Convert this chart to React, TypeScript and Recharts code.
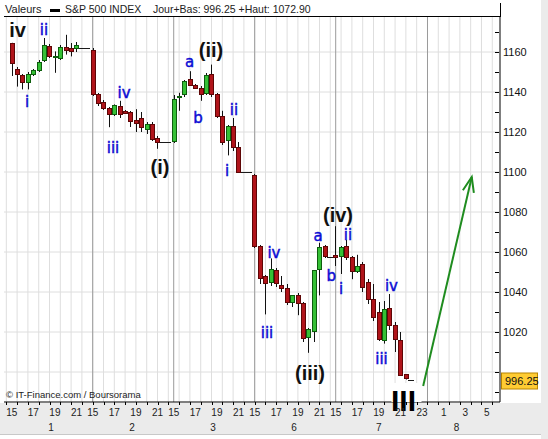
import React from 'react';
import {
  ComposedChart,
  Bar,
  XAxis,
  YAxis,
  CartesianGrid,
  ReferenceLine,
  ReferenceDot,
} from 'recharts';

// Half-hour candles, [open, high, low, close]. 15 slots per session, last ones are flat close ticks.
const DAY_1 = [
  [1164.4, 1164.6, 1148, 1154.5],
  [1151.6, 1152.5, 1142.7, 1148.8],
  [1148.3, 1149, 1141.3, 1145],
  [1145, 1150, 1141.3, 1148.8],
  [1149.1, 1151.5, 1148, 1150.9],
  [1151.2, 1156, 1150, 1155],
  [1156.2, 1167, 1155, 1163.6],
  [1163.1, 1164, 1157, 1157.8],
  [1157.5, 1160.3, 1149.6, 1158],
  [1157.2, 1163.5, 1156, 1162.6],
  [1162.5, 1168.6, 1158.7, 1161],
  [1162, 1164.5, 1157.8, 1160.3],
  [1162, 1165, 1160, 1163.7],
  [1162, 1162, 1162, 1162],
  [1162, 1162, 1162, 1162],
];
const DAY_2 = [
  [1161, 1162, 1138, 1139],
  [1138.8, 1139.5, 1133, 1134.7],
  [1135, 1136, 1131, 1131.8],
  [1131.8, 1132.5, 1122.4, 1129],
  [1129, 1133.8, 1128, 1133.4],
  [1132.8, 1135.6, 1127, 1129],
  [1130.5, 1131, 1129, 1129.5],
  [1130, 1130.5, 1122.5, 1125.6],
  [1126, 1131.4, 1120, 1124.5],
  [1126.8, 1130, 1120, 1122.5],
  [1121.5, 1125, 1119, 1124],
  [1124, 1125, 1115.5, 1116.6],
  [1117, 1118, 1111.6, 1115],
  [1115, 1115, 1115, 1115],
  [1115, 1115, 1115, 1115],
];
const DAY_3 = [
  [1115.3, 1138.5, 1114.5, 1136.7],
  [1137.5, 1139.6, 1130.6, 1137.9],
  [1139, 1146, 1137.5, 1145.5],
  [1146.3, 1150.4, 1143, 1143.4],
  [1143.4, 1144, 1141.5, 1142],
  [1142, 1143, 1135.6, 1138.9],
  [1139.5, 1149.5, 1138.5, 1148.6],
  [1148.8, 1153.7, 1137.5, 1138.8],
  [1138.8, 1139.5, 1127, 1128.2],
  [1128.2, 1130.6, 1113.5, 1115],
  [1115.8, 1123.5, 1108.3, 1122.9],
  [1122.9, 1127, 1110.5, 1112.5],
  [1112.5, 1115, 1099.5, 1100.1],
  [1100, 1100, 1100, 1100],
  [1100, 1100, 1100, 1100],
];
const DAY_6 = [
  [1098.4, 1099, 1062, 1062.9],
  [1063, 1063.5, 1044, 1047],
  [1048, 1048.5, 1028.8, 1044.6],
  [1044.8, 1056.8, 1043, 1051.5],
  [1051, 1052, 1042.5, 1044.5],
  [1043.7, 1048, 1040, 1041.8],
  [1042, 1044, 1033.5, 1034.9],
  [1035, 1038.5, 1032.5, 1038.3],
  [1038.7, 1039.5, 1028.4, 1034.4],
  [1034.4, 1035, 1015, 1017.2],
  [1017.7, 1022, 1009.6, 1021.7],
  [1020.5, 1051, 1015, 1050.8],
  [1051.7, 1064.6, 1038.3, 1062.4],
  [1063, 1063.5, 1057, 1058],
  [1057.5, 1057.5, 1057.5, 1057.5],
];
const DAY_7 = [
  [1058.3, 1072.9, 1053, 1057.4],
  [1058.2, 1063, 1049, 1062.5],
  [1063, 1066, 1056, 1057.4],
  [1057.4, 1058, 1046.4, 1050.4],
  [1050.3, 1058.6, 1049.5, 1052.8],
  [1054, 1055, 1040, 1042.7],
  [1045, 1046.5, 1034, 1036.5],
  [1036.5, 1044, 1025.5, 1027.5],
  [1030, 1035, 1015.5, 1016.7],
  [1016, 1035.5, 1014.2, 1031.6],
  [1032, 1039, 1021, 1023.4],
  [1023.4, 1025, 1010, 1016.5],
  [1016.2, 1020, 998, 998.6],
  [998.8, 999, 996.25, 997],
  [996.25, 996.25, 996.25, 996.25],
];
const SESSIONS = [DAY_1, DAY_2, DAY_3, DAY_6, DAY_7];
const SLOTS_PER_DAY = 15;

const LAST_CLOSE = 996.25;
const X_DOMAIN = [-1.43, 90.43];
const Y_DOMAIN = [985, 1177.5];

const PRICE_TICKS = [990, 1000, 1010, 1020, 1030, 1040, 1050, 1060, 1070, 1080, 1090, 1100, 1110, 1120, 1130, 1140, 1150, 1160, 1170];
const PRICE_GRID = [1000, 1020, 1040, 1060, 1080, 1100, 1120, 1140, 1160];

const HOUR_SLOTS = [-1, 1, 3, 5, 7, 9, 11, 13, 15, 17, 19, 21, 23, 25, 27, 29, 31, 33, 35, 37, 39, 41, 43, 45, 47, 49, 51, 53, 55, 57, 59, 61, 63, 65, 67, 69, 71, 73, 75, 77, 79, 81, 83, 85, 87, 89];
const SESSION_STARTS = [15, 30, 45, 60, 77];
const HOUR_LABELS: [number, string][] = [
  [0, '15'], [4, '17'], [8, '19'], [12, '21'],
  [15, '15'], [19, '17'], [23, '19'], [27, '21'],
  [30, '15'], [34, '17'], [38, '19'], [42, '21'],
  [45, '15'], [49, '17'], [53, '19'], [57, '21'],
  [60, '15'], [64, '17'], [68, '19'], [72, '21'], [76, '23'],
  [80, '1'], [84, '3'], [88, '5'],
];
const DAY_LABELS: [number, string][] = [
  [7.3, '1'], [22.3, '2'], [37.3, '3'], [52.3, '6'], [68, '7'], [82.4, '8'],
];

const WAVE_LABELS = [
  { x: 1.07, y: 1171, text: 'iv', major: true },
  { x: 5.98, y: 1171, text: 'ii' },
  { x: 2.83, y: 1135, text: 'i' },
  { x: 20.8, y: 1139.5, text: 'iv' },
  { x: 18.76, y: 1112, text: 'iii' },
  { x: 27.46, y: 1102.5, text: '(i)', major: true },
  { x: 32.93, y: 1155, text: 'a' },
  { x: 36.9, y: 1161, text: '(ii)', major: true },
  { x: 34.5, y: 1127, text: 'b' },
  { x: 41.17, y: 1131, text: 'ii' },
  { x: 39.87, y: 1100.5, text: 'i' },
  { x: 48.57, y: 1059.5, text: 'iv' },
  { x: 47.28, y: 1019.5, text: 'iii' },
  { x: 56.72, y: 1068, text: 'a' },
  { x: 59.2, y: 1048, text: 'b' },
  { x: 55.24, y: 999.5, text: '(iii)', major: true },
  { x: 60.43, y: 1078.5, text: '(iv)', major: true },
  { x: 62.28, y: 1068.5, text: 'ii' },
  { x: 60.98, y: 1041.5, text: 'i' },
  { x: 70.33, y: 1043, text: 'iv' },
  { x: 68.48, y: 1006.5, text: 'iii' },
];
const DEGREE_LABEL = { x: 72.56, y: 986, text: 'III' };
const PROJECTION = [
  { x: 76.2, y: 993 },
  { x: 85.2, y: 1097.5 },
];

const RED = '#b0141a';
const RED_EDGE = '#5e0606';
const GREEN = '#35c035';
const GREEN_EDGE = '#0d5e0d';
const BLUE = '#0c0cd4';
const FONT = '"Liberation Sans", Arial, sans-serif';

const candles = SESSIONS.flatMap((day, d) =>
  day.map(([o, h, l, c], i) => ({ x: d * SLOTS_PER_DAY + i, o, h, l, c })),
);

const hourLabelMap = new Map(HOUR_LABELS);
const dayLabelMap = new Map(DAY_LABELS);
const hourSet = new Set(HOUR_SLOTS);
const xTicks = Array.from(
  new Set([...HOUR_SLOTS, ...HOUR_LABELS.map((t) => t[0]), ...DAY_LABELS.map((t) => t[0])]),
).sort((a, b) => a - b);

function Candle(props: any) {
  const { x, y, width, height, payload } = props;
  if (!payload || x == null || y == null) return null;
  const { o, h, l, c } = payload;
  const cx = Math.round(x + width / 2);
  const span = h - l;
  if (span === 0) {
    const yy = Math.round(y) + 0.5;
    return <line x1={cx - 3} x2={cx + 3} y1={yy} y2={yy} stroke="#1a1a1a" />;
  }
  const toY = (v: number) => y + ((h - v) / span) * height;
  const up = c >= o;
  const top = Math.round(toY(Math.max(o, c)));
  const bot = Math.round(toY(Math.min(o, c)));
  return (
    <g>
      <line x1={cx + 0.5} x2={cx + 0.5} y1={y} y2={y + height} stroke="#111" />
      <rect
        x={cx - 1.5}
        y={top + 0.5}
        width={4}
        height={Math.max(bot - top, 1)}
        fill={up ? GREEN : RED}
        stroke={up ? GREEN_EDGE : RED_EDGE}
      />
    </g>
  );
}

function TimeTick(props: any) {
  const { x, y, payload } = props;
  const v = payload.value;
  const hour = hourLabelMap.get(v);
  const day = dayLabelMap.get(v);
  const px = Math.round(x) + 0.5;
  return (
    <g>
      {hourSet.has(v) && <line x1={px} x2={px} y1={y} y2={y + 3} stroke="#000" />}
      {hour && (
        <text x={x} y={y + 14} textAnchor="middle" fontSize={10} fill="#222" fontFamily={FONT}>
          {hour}
        </text>
      )}
      {day && (
        <text x={x} y={y + 29} textAnchor="middle" fontSize={10} fill="#222" fontFamily={FONT}>
          {day}
        </text>
      )}
    </g>
  );
}

function PriceTick(props: any) {
  const { x, y, payload } = props;
  const v = payload.value;
  const py = Math.round(y) + 0.5;
  return (
    <g>
      <line x1={x - 8} x2={x - 4} y1={py} y2={py} stroke="#000" />
      {v % 20 === 0 && v !== 1000 && (
        <text x={x} y={y + 4} fontSize={11} fill="#111" fontFamily={FONT}>
          {v}
        </text>
      )}
    </g>
  );
}

function WaveText({ cx, cy, text, major }: any) {
  return (
    <text
      x={cx}
      y={cy}
      textAnchor="middle"
      dominantBaseline="central"
      fontSize={major ? 20 : 15}
      fontWeight={major ? 700 : 400}
      fontFamily={major ? FONT : '"DejaVu Sans", Verdana, sans-serif'}
      fill={major ? '#111' : BLUE}
      stroke={major ? 'none' : BLUE}
      strokeWidth={major ? 0 : 0.45}
    >
      {text}
    </text>
  );
}

function DegreeText({ cx, cy }: any) {
  return (
    <g>
      <rect x={cx - 12} y={cy - 17} width={30} height={19} fill="#fff" />
      <text
        x={cx}
        y={cy}
        textAnchor="middle"
        dominantBaseline="central"
        fontSize={30}
        fontWeight={700}
        fontFamily={FONT}
        fill="#000"
      >
        {DEGREE_LABEL.text}
      </text>
    </g>
  );
}

function PriceTag({ cx, cy }: any) {
  return (
    <g>
      <rect x={cx + 1.5} y={cy - 6.5} width={36} height={16} fill="#ffcc33" stroke="#b88400" />
      <text x={cx + 5} y={cy + 5.5} fontSize={11} fill="#111" fontFamily={FONT}>
        {LAST_CLOSE.toFixed(2)}
      </text>
    </g>
  );
}

function ArrowShape(props: any) {
  const { x1, y1, x2, y2 } = props;
  if ([x1, y1, x2, y2].some((v) => v == null || Number.isNaN(v))) return null;
  const ang = Math.atan2(y2 - y1, x2 - x1);
  const len = 16;
  const spread = 0.36;
  const bx1 = x2 - len * Math.cos(ang - spread);
  const by1 = y2 - len * Math.sin(ang - spread);
  const bx2 = x2 - len * Math.cos(ang + spread);
  const by2 = y2 - len * Math.sin(ang + spread);
  return (
    <g stroke="#1f8c1f" strokeWidth={2} fill="none">
      <line x1={x1} y1={y1} x2={x2} y2={y2} />
      <polyline points={`${bx1},${by1} ${x2},${y2} ${bx2},${by2}`} />
    </g>
  );
}

export default function App() {
  return (
    <div style={{ position: 'absolute', left: 0, top: 0, width: 548, height: 439, background: '#ebebeb', fontFamily: FONT }}>
      <div style={{ position: 'absolute', left: 0, top: 0, width: 541, height: 403, background: '#fff' }} />
      <div style={{ position: 'absolute', left: 0, top: 434, width: 541, height: 5, background: '#fff', borderTop: '1px solid #c8c8c8' }} />
      <div style={{ position: 'absolute', left: 4, top: 16, width: 497, height: 1, background: '#000' }} />
      <div style={{ position: 'absolute', left: 500, top: 3, width: 1, height: 14, background: '#000' }} />
      <div style={{ position: 'absolute', left: 5, top: 3, fontSize: 11, color: '#222', whiteSpace: 'pre', lineHeight: '12px' }}>
        Valeurs
      </div>
      <div style={{ position: 'absolute', left: 50, top: 9, width: 10, height: 3, background: '#000' }} />
      <div style={{ position: 'absolute', left: 65, top: 3, fontSize: 10.5, color: '#222', whiteSpace: 'pre', lineHeight: '12px' }}>
        S&amp;P 500 INDEX
      </div>
      <div style={{ position: 'absolute', left: 153, top: 3, fontSize: 10.5, color: '#222', whiteSpace: 'pre', lineHeight: '12px' }}>
        Jour+Bas: 996.25 +Haut: 1072.90
      </div>
      <div style={{ position: 'absolute', left: 0, top: 0 }}>
        <ComposedChart
          width={548}
          height={439}
          data={candles}
          margin={{ top: 17, right: 8, bottom: 7, left: 4 }}
        >
          <CartesianGrid
            stroke="#dedede"
            horizontalValues={PRICE_GRID}
            verticalValues={HOUR_SLOTS}
          />
          <CartesianGrid stroke="#9a9a9a" horizontal={false} verticalValues={SESSION_STARTS} />
          <XAxis
            type="number"
            dataKey="x"
            domain={X_DOMAIN}
            ticks={xTicks}
            interval={0}
            tickLine={false}
            tickSize={0}
            tickMargin={0}
            axisLine={{ stroke: '#000' }}
            height={30}
            tick={(p: any) => <TimeTick {...p} />}
          />
          <YAxis
            orientation="right"
            type="number"
            domain={Y_DOMAIN}
            ticks={PRICE_TICKS}
            interval={0}
            tickLine={false}
            tickSize={0}
            tickMargin={3}
            axisLine={{ stroke: '#000' }}
            width={40}
            tick={(p: any) => <PriceTick {...p} />}
          />
          <Bar
            dataKey={(d: any) => [d.l, d.h]}
            barSize={5}
            isAnimationActive={false}
            shape={(p: any) => <Candle {...p} />}
          />
          {WAVE_LABELS.map((w, i) => (
            <ReferenceDot
              key={i}
              x={w.x}
              y={w.y}
              ifOverflow="visible"
              shape={(p: any) => <WaveText {...p} text={w.text} major={w.major} />}
            />
          ))}
          <ReferenceLine
            segment={PROJECTION}
            ifOverflow="visible"
            shape={(p: any) => <ArrowShape {...p} />}
          />
          <ReferenceDot
            x={DEGREE_LABEL.x}
            y={DEGREE_LABEL.y}
            ifOverflow="visible"
            shape={(p: any) => <DegreeText {...p} />}
          />
          <ReferenceDot
            x={X_DOMAIN[1]}
            y={LAST_CLOSE}
            ifOverflow="visible"
            shape={(p: any) => <PriceTag {...p} />}
          />
        </ComposedChart>
      </div>
      <div style={{ position: 'absolute', left: 6, top: 389, fontSize: 9.5, color: '#222', whiteSpace: 'pre', lineHeight: '12px' }}>
        © IT-Finance.com / Boursorama
      </div>
    </div>
  );
}
